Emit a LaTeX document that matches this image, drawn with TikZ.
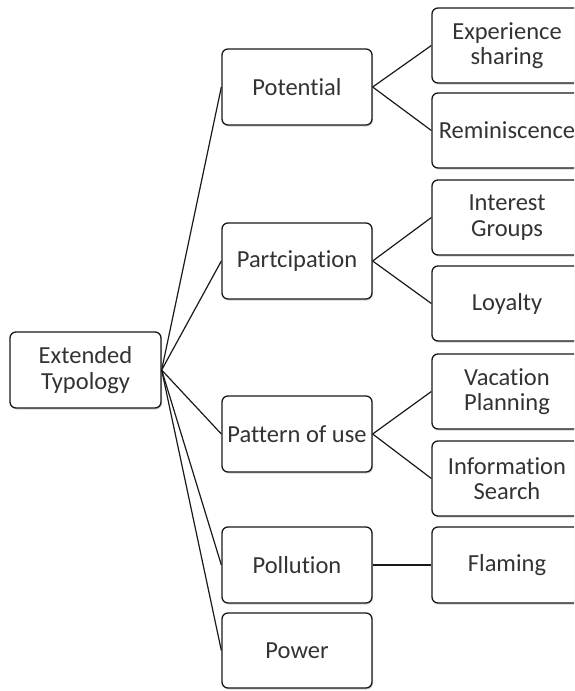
\documentclass[tikz,border=0pt]{standalone}
\usepackage{fontspec}
\setmainfont[Ligatures=NoCommon]{Carlito}
\usetikzlibrary{shadows}
\begin{document}
\begin{tikzpicture}[x=1pt,y=-1pt,
  box/.style={draw=black!90, line width=1.3pt, rounded corners=6pt,
    minimum width=150pt, minimum height=76pt, align=center, inner sep=1pt,
    font=\fontsize{24.5}{25.5}\selectfont, text=black!80, fill=white,
    drop shadow={shadow xshift=1pt, shadow yshift=-1.5pt, opacity=0.35}},
  link/.style={line width=1.2pt, draw=black!90}]
\useasboundingbox (0,0) rectangle (574,691);
\clip (0,0) rectangle (574,691);
% root
\node[box, minimum width=151pt] (root) at (85.5,370) {Extended\\Typology};
% level 1
\node[box] (pot) at (297,87) {Potential};
\node[box] (par) at (297,261) {Partcipation};
\node[box] (pat) at (297,434) {Pattern of use};
\node[box] (pol) at (297,565) {Pollution};
\node[box, minimum height=75pt] (pow) at (297,650.5) {Power};
% level 2
\node[box, minimum height=75pt] (exp) at (507,45.5) {Experience\\sharing};
\node[box, minimum height=75pt] (rem) at (507,130.5) {Reminiscence};
\node[box, minimum height=75pt] (int) at (507,217.5) {Interest\\Groups};
\node[box, minimum height=75pt] (loy) at (507,303.5) {Loyalty};
\node[box, minimum height=75pt] (vac) at (507,391.5) {Vacation\\Planning};
\node[box, minimum height=75pt] (inf) at (507,478.5) {Information\\Search};
\node[box] (fla) at (507,565) {Flaming};
% connectors
\foreach \t in {pot,par,pat,pol,pow} \draw[link] (root.east) -- (\t.west);
\draw[link] (pot.east) -- (exp.west);
\draw[link] (pot.east) -- (rem.west);
\draw[link] (par.east) -- (int.west);
\draw[link] (par.east) -- (loy.west);
\draw[link] (pat.east) -- (vac.west);
\draw[link] (pat.east) -- (inf.west);
\draw[link] (pol.east) -- (fla.west);
\end{tikzpicture}
\end{document}
